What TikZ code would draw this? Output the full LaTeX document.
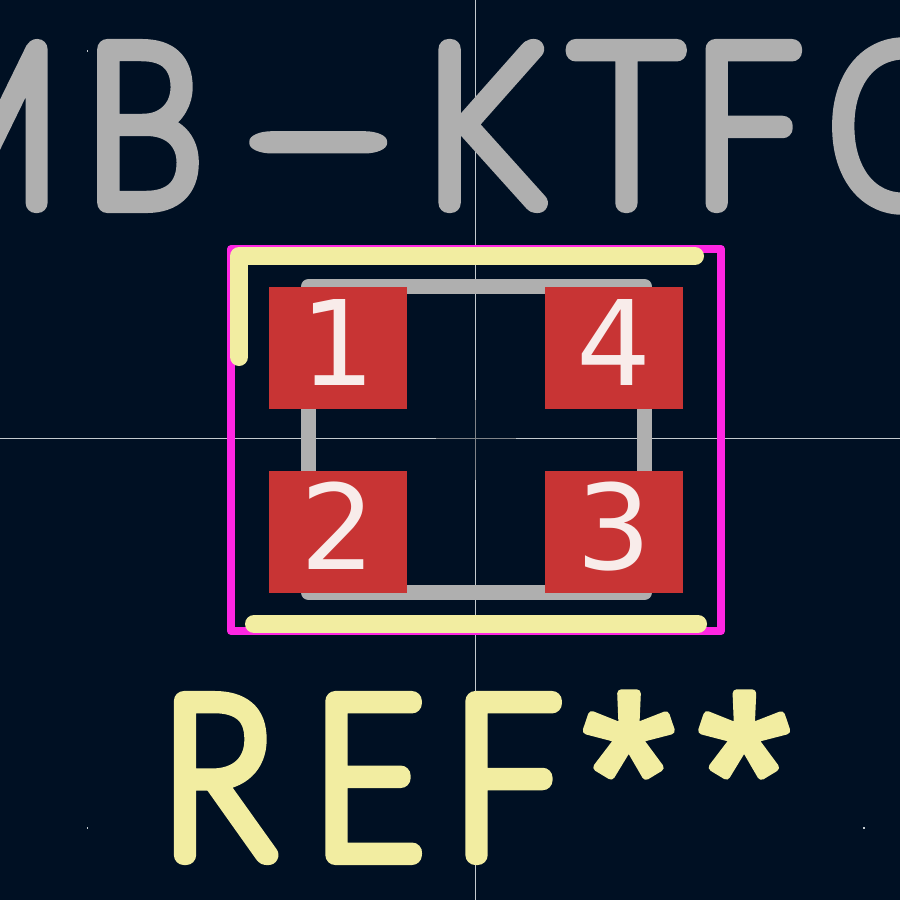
\documentclass[tikz,border=0pt]{standalone}
\usepackage{fontspec}
\usepackage{xcolor}
\setmainfont{DejaVu Sans}
\newfontfamily\strokefont[UprightFont=* Hairline,FakeStretch=0.85]{Lato}
\newfontfamily\starfont{Liberation Sans}
\newcommand{\penround}[1]{\special{pdf:code 1 j 1 J 2 Tr #1 w}}
\usetikzlibrary{positioning}
\definecolor{Board}{HTML}{001023}
\definecolor{Silk}{HTML}{F2EDA1}
\definecolor{Fab}{HTML}{AFAFAF}
\definecolor{Court}{HTML}{FF26E2}
\definecolor{Pad}{HTML}{C83434}
\definecolor{PadText}{HTML}{F8ECEA}
\definecolor{Axis}{HTML}{C4CACE}
\definecolor{AxisMid}{HTML}{808488}
\begin{document}
\begin{tikzpicture}[
    x=1pt, y=-1pt,
    pad/.style={fill=Pad, minimum width=138pt, minimum height=122pt, inner sep=0pt, text=PadText, text height=86pt, text depth=12pt, font=\fontsize{118}{118}\selectfont},
    silk/.style={draw=Silk, line width=18pt, line cap=round, line join=round},
    fab/.style={draw=Fab, line width=15pt, line join=round},
    court/.style={draw=Court, line width=8pt, line join=round},
    axis/.style={draw=Axis, line width=1pt},
    big/.style={anchor=base west, inner sep=0pt, font=\strokefont\fontsize{220}{220}\selectfont}
  ]
    \clip (0,0) rectangle (900,900);
    \fill[Board] (0,0) rectangle (900,900);

    \draw[axis] (475.5,0) -- (475.5,900);
    \draw[axis] (0,438.5) -- (900,438.5);
    \draw[axis, draw=AxisMid] (475.5,400) -- (475.5,480);
    \draw[axis, draw=AxisMid] (436,438.5) -- (516,438.5);
    \foreach \x/\y in {87.5/51, 87.5/828, 864/828}
      \fill[Axis] (\x-0.75,\y-0.75) rectangle (\x+0.75,\y+0.75);

    \node[big, text=Fab] (value) at (-107.6,203) {\penround{20}M\kern26.5ptB\kern39pt\raisebox{-4pt}{\scalebox{2.25}[1]{-}}\kern31ptK\kern32ptT\kern14.5ptF\kern30ptC};
    \node[big, text=Silk] (ref) at (162,855) {\penround{20}R\kern41ptE\kern31ptF\kern24pt\penround{8}{\starfont\fontsize{235}{235}\selectfont *\kern24pt*}};

    \draw[court] (231,249) rectangle (721,631);
    \draw[fab] (308.5,286.5) rectangle (644.5,592.5);

    \node[pad] (p1) at (338,348) {1};
    \node[pad] (p4) at (614,348) {4};
    \node[pad] (p2) at (338,532) {2};
    \node[pad] (p3) at (614,532) {3};

    \draw[silk] (239,357) -- (239,256) -- (695,256);
    \draw[silk] (254,624) -- (698,624);
  \end{tikzpicture}
\end{document}
